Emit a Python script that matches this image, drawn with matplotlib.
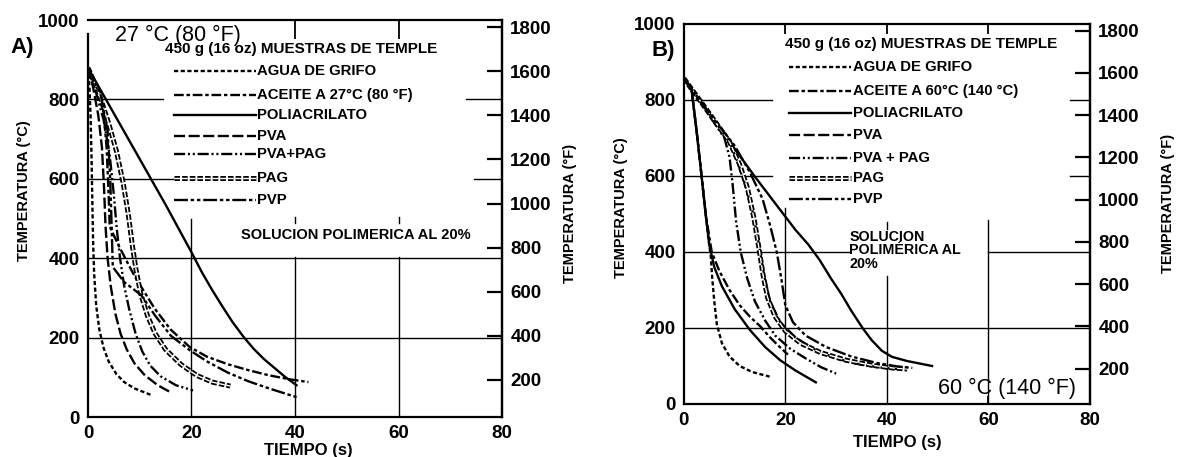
import matplotlib
matplotlib.use('Agg')
import matplotlib.pyplot as plt

plt.rcParams['font.family'] = ['Liberation Sans', 'DejaVu Sans']
plt.rcParams['lines.scale_dashes'] = False

# ---- panel A: bath at 27 C, time (s) vs temperature (C) ----
a_agua_t = [0, 0.3, 0.5, 0.7, 0.85, 1.0, 1.2, 1.6, 2.2, 3, 4, 5.5, 7, 9, 12.3]
a_agua_c = [880, 830, 760, 650, 540, 440, 360, 280, 220, 175, 140, 108, 88, 72, 55]
a_pva_t = [0, 1, 2, 2.7, 3.1, 3.4, 3.8, 4.4, 5.3, 6.3, 7.5, 9, 11, 13.5, 16]
a_pva_c = [880, 830, 760, 680, 580, 480, 400, 330, 260, 210, 170, 135, 105, 80, 62]
a_pvapag_t = [0, 1.5, 3, 4.2, 5, 5.6, 6.2, 7, 8, 9.2, 10.5, 12, 14, 17, 20.3]
a_pvapag_c = [880, 820, 750, 660, 560, 470, 400, 330, 270, 210, 165, 130, 103, 80, 67]
a_pag_t = [0, 2, 4, 5.5, 6.8, 7.8, 8.6, 9.3, 10.2, 11.5, 13, 15, 18, 21, 24, 27.5]
a_pag_c = [880, 820, 740, 670, 590, 510, 430, 370, 310, 255, 210, 170, 132, 105, 88, 78]
a_aceite_t = [0, 2, 3, 3.6, 4, 4.2, 6, 9, 12.9, 16, 19.7, 23, 27, 31, 35, 39, 42.6]
a_aceite_c = [880, 820, 770, 680, 560, 480, 430, 355, 273, 220, 176, 152, 133, 118, 105, 95, 88]
a_pvp_t = [0, 2.5, 3.8, 4.3, 4.6, 4.8, 7, 10.3, 13, 16, 19.7, 23, 27, 31, 35, 40.3]
a_pvp_c = [880, 810, 720, 600, 470, 378, 340, 307, 255, 205, 168, 140, 112, 90, 72, 50]
a_poli_t = [0, 5, 10, 15, 20, 22, 24, 26, 28, 30, 32, 34, 36, 38, 40.3]
a_poli_c = [880, 765, 650, 535, 415, 365, 320, 278, 238, 203, 172, 146, 124, 102, 80]

# ---- panel B: bath at 60 C ----
b_agua_t = [0, 1.5, 2.5, 3.5, 4.3, 5, 5.3, 5.6, 6, 6.5, 7.5, 9, 11, 13.5, 16.9]
b_agua_c = [857, 830, 720, 600, 500, 420, 390, 330, 270, 210, 160, 125, 100, 84, 72]
b_aceite_t = [0, 1.5, 2.5, 3.5, 4.3, 5.5, 7, 9, 11, 13, 15, 17, 18.5, 20.5]
b_aceite_c = [857, 830, 720, 600, 500, 400, 350, 300, 260, 230, 205, 175, 155, 130]
b_solid2_t = [0, 1.5, 2.5, 3.5, 4.3, 5, 6, 7.5, 10, 13, 16, 19, 22, 26]
b_solid2_c = [857, 830, 720, 600, 500, 420, 360, 310, 250, 195, 150, 115, 88, 57]
b_pvapag_t = [0, 4, 8, 9, 9.6, 10.3, 11.2, 12.5, 14, 16, 18, 21, 24, 27, 30]
b_pvapag_c = [857, 780, 700, 650, 580, 480, 400, 330, 270, 220, 180, 145, 120, 97, 80]
b_pag_t = [0, 5, 9, 11, 12.5, 13.8, 14.8, 15.6, 16.5, 18, 20, 23, 27, 32, 37, 41, 44]
b_pag_c = [857, 765, 690, 630, 570, 490, 410, 340, 280, 230, 192, 160, 135, 115, 102, 95, 92]
b_pvp_t = [0, 5, 10, 13, 15.5, 17, 18.3, 19.2, 20, 21.5, 24, 28, 33, 38, 42, 45]
b_pvp_c = [857, 765, 680, 610, 540, 470, 400, 330, 260, 215, 180, 150, 125, 108, 99, 95]
b_pva_t = [0, 5, 9, 10.5, 12, 13.5, 14.8, 15.8, 17, 19, 22, 26, 30, 34, 38, 42]
b_pva_c = [857, 765, 690, 640, 580, 510, 420, 340, 270, 215, 175, 142, 120, 106, 97, 92]
b_poli_t = [0, 5, 10, 13.9, 18, 22, 24.5, 26.7, 29, 31, 33, 35.2, 37, 39, 41, 44, 48.9]
b_poli_c = [857, 765, 672, 600, 528, 458, 420, 380, 330, 290, 245, 200, 168, 140, 124, 113, 100]

a_labels = ['AGUA DE GRIFO', 'ACEITE A 27°C (80 °F)', 'POLIACRILATO', 'PVA',
            'PVA+PAG', 'PAG', 'PVP']
b_labels = ['AGUA DE GRIFO', 'ACEITE A 60°C (140 °C)', 'POLIACRILATO', 'PVA',
            'PVA + PAG', 'PAG', 'PVP']
a_leg_y = [871, 811, 760, 709, 662, 603, 547]
b_leg_y = [887, 824, 766, 709, 647, 594, 540]

styles = {
    'agua': dict(dashes=(3, 1.8)),
    'aceite': dict(dashes=(7, 2, 2.5, 2)),
    'poli': dict(linestyle='-'),
    'pva': dict(dashes=(8, 2.5)),
    'pvapag': dict(dashes=(8, 2, 1.5, 2, 1.5, 2)),
    'pag': 'double',
    'pvp': dict(dashes=(10, 2, 2.5, 2, 2.5, 2)),
}
order = ['agua', 'aceite', 'poli', 'pva', 'pvapag', 'pag', 'pvp']


def curve(ax, t, c, key, lw=1.7):
    st = styles[key]
    if st == 'double':
        ax.plot(t, c, color='k', lw=3.6, dashes=(4, 1.5), zorder=3)
        ax.plot(t, c, color='w', lw=1.0, dashes=(4, 1.5), zorder=3)
    else:
        ax.plot(t, c, color='k', lw=lw, zorder=3, **st)


def frame(ax, top_ticks, top_len, bottom_ticks):
    ax.set_xlim(0, 80)
    ax.set_ylim(0, 1000)
    ax.set_xticks([0, 20, 40, 60, 80])
    ax.set_yticks([0, 200, 400, 600, 800, 1000])
    ax.tick_params(length=0, labelsize=13.5, pad=6)
    for lab in ax.get_xticklabels() + ax.get_yticklabels():
        lab.set_fontweight('bold')
    for s in ax.spines.values():
        s.set_linewidth(1.6)
    sec = ax.secondary_yaxis('right', functions=(lambda c: c * 1.8 + 32,
                                                 lambda f: (f - 32) / 1.8))
    sec.set_yticks(range(200, 1801, 200))
    sec.tick_params(direction='in', length=11, width=1.6, labelsize=13.5, pad=6)
    for lab in sec.get_yticklabels():
        lab.set_fontweight('bold')
    sec.spines['right'].set_linewidth(1.6)
    top = ax.secondary_xaxis('top')
    top.set_xticks(top_ticks)
    top.tick_params(direction='in', length=top_len, width=1.3, labeltop=False)
    top.spines['top'].set_visible(False)
    if bottom_ticks:
        bot = ax.secondary_xaxis('bottom')
        bot.set_xticks(bottom_ticks)
        bot.tick_params(direction='in', length=6, width=1.3, labelbottom=False)
        bot.spines['bottom'].set_visible(False)


fig = plt.figure(figsize=(11.79, 4.57), dpi=100)

# ================= panel A =================
axA = fig.add_axes([0.0746, 0.0875, 0.3512, 0.8685])
frame(axA, [40, 60], 14, [])
axA.spines['left'].set_bounds(0, 965)
gk = dict(color='k', lw=1.0, zorder=1)
axA.plot([0, 80], [400, 400], **gk)
axA.plot([0, 80], [200, 200], **gk)
axA.plot([0, 14.5], [800, 800], **gk)
axA.plot([73, 80], [800, 800], **gk)
axA.plot([0, 16.4], [600, 600], **gk)
axA.plot([74.5, 80], [600, 600], **gk)
axA.plot([20, 20], [0, 500], **gk)
axA.plot([40, 40], [0, 402], **gk)
axA.plot([40, 40], [490, 505], **gk)
axA.plot([60, 60], [0, 402], **gk)
axA.plot([60, 60], [490, 505], **gk)

a_data = {'agua': (a_agua_t, a_agua_c), 'aceite': (a_aceite_t, a_aceite_c),
          'poli': (a_poli_t, a_poli_c), 'pva': (a_pva_t, a_pva_c),
          'pvapag': (a_pvapag_t, a_pvapag_c), 'pag': (a_pag_t, a_pag_c),
          'pvp': (a_pvp_t, a_pvp_c)}
for k in order:
    curve(axA, *a_data[k], k)

axA.text(14.9, 926, '450 g (16 oz) MUESTRAS DE TEMPLE', fontsize=11,
         fontweight='bold', va='center')
for k, lab, y in zip(order, a_labels, a_leg_y):
    curve(axA, [16.7, 32.4], [y, y], k)
    axA.text(32.6, y, lab, fontsize=10.7, fontweight='bold', va='center')
axA.text(29.5, 458, 'SOLUCION POLIMERICA AL 20%', fontsize=10.5,
         fontweight='bold', va='center')
axA.text(5.2, 962, '27 °C (80 °F)', fontsize=15.5, va='center')
axA.text(-12.8, 930, 'A)', fontsize=16, fontweight='bold', va='center',
         ha='center')

# ================= panel B =================
axB = fig.add_axes([0.580, 0.116, 0.3445, 0.8315])
frame(axB, [20, 40, 60], 7, [60])
axB.plot([0, 80], [200, 200], **gk)
axB.plot([0, 32.5], [400, 400], **gk)
axB.plot([60, 80], [400, 400], **gk)
axB.plot([0, 17.4], [800, 800], **gk)
axB.plot([76, 80], [800, 800], **gk)
axB.plot([0, 17.4], [600, 600], **gk)
axB.plot([76, 80], [600, 600], **gk)
axB.plot([20, 20], [0, 515], **gk)
axB.plot([40, 40], [0, 338], **gk)
axB.plot([40, 40], [460, 480], **gk)
axB.plot([60, 60], [0, 484], **gk)

b_data = {'agua': (b_agua_t, b_agua_c), 'aceite': (b_aceite_t, b_aceite_c),
          'poli': (b_poli_t, b_poli_c), 'pva': (b_pva_t, b_pva_c),
          'pvapag': (b_pvapag_t, b_pvapag_c), 'pag': (b_pag_t, b_pag_c),
          'pvp': (b_pvp_t, b_pvp_c)}
for k in order:
    curve(axB, *b_data[k], k)
axB.plot(b_solid2_t, b_solid2_c, color='k', lw=1.7, zorder=3)

axB.text(20, 947, '450 g (16 oz) MUESTRAS DE TEMPLE', fontsize=11,
         fontweight='bold', va='center')
for k, lab, y in zip(order, b_labels, b_leg_y):
    curve(axB, [20.7, 33], [y, y], k)
    axB.text(33.3, y, lab, fontsize=10.7, fontweight='bold', va='center')
axB.text(32.6, 404, 'SOLUCION\nPOLIMÉRICA AL\n20%', fontsize=10.3,
         fontweight='bold', va='center', linespacing=0.95)
axB.text(63.7, 42, '60 °C (140 °F)', fontsize=15.5, va='center', ha='center')
axB.text(-4.1, 929, 'B)', fontsize=16, fontweight='bold', va='center',
         ha='center')

# axis titles
W, H = 1179, 457
lab_kw = dict(rotation=90, fontsize=10.5, fontweight='bold', ha='center',
              va='center')
fig.text(24 / W, 1 - 191 / H, 'TEMPERATURA (°C)', **lab_kw)
fig.text(570 / W, 1 - 213 / H, 'TEMPERATURA (°F)', **lab_kw)
fig.text(621 / W, 1 - 208 / H, 'TEMPERATURA (°C)', **lab_kw)
fig.text(1168 / W, 1 - 203 / H, 'TEMPERATURA (°F)', **lab_kw)
fig.text(308 / W, 1 - 450 / H, 'TIEMPO (s)', fontsize=12, fontweight='bold',
         ha='center', va='center')
fig.text(897 / W, 1 - 443 / H, 'TIEMPO (s)', fontsize=12, fontweight='bold',
         ha='center', va='center')

fig.savefig('out.png', dpi=100)
